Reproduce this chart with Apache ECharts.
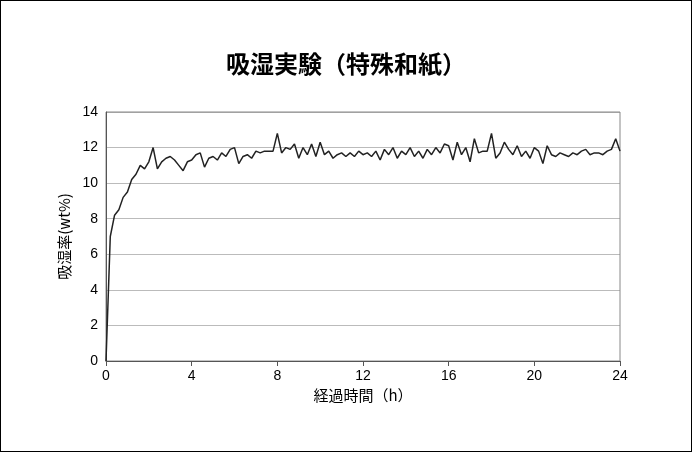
<!DOCTYPE html>
<html><head><meta charset="utf-8">
<script src="https://cdn.jsdelivr.net/npm/echarts@6/dist/echarts.min.js"></script>
<style>html,body{margin:0;padding:0;background:#fff}#c{width:690px;height:450px;border:1px solid #000}</style>
</head><body><div id="c"></div>
<script>
const title = '吸湿実験（特殊和紙）';
const xName = '経過時間（h）';
const yName = '吸湿率(wt%)';
const hours = [];
for (let i = 0; i <= 120; i++) hours.push(+(i * 0.2).toFixed(1));
const moisture = [
0,7.0,8.2,8.5,9.2,9.5,10.2,10.5,11.0,10.8,11.2,12.0,10.8,11.2,11.4,11.5,11.3,11.0,10.7,11.2,
11.3,11.6,11.7,10.9,11.4,11.5,11.3,11.7,11.5,11.9,12.0,11.1,11.5,11.6,11.4,11.8,11.7,11.8,11.8,11.8,
12.8,11.7,12.0,11.9,12.2,11.4,12.0,11.6,12.2,11.5,12.3,11.6,11.8,11.4,11.6,11.7,11.5,11.7,11.5,11.8,
11.6,11.7,11.5,11.8,11.3,11.9,11.6,12.0,11.4,11.8,11.6,12.0,11.5,11.8,11.4,11.9,11.6,12.0,11.7,12.2,
12.1,11.3,12.3,11.6,12.0,11.2,12.5,11.7,11.8,11.8,12.8,11.4,11.7,12.3,11.9,11.6,12.1,11.5,11.8,11.4,
12.0,11.8,11.1,12.1,11.6,11.5,11.7,11.6,11.5,11.7,11.6,11.8,11.9,11.6,11.7,11.7,11.6,11.8,11.9,12.5,11.8
];
const chart = echarts.init(document.getElementById('c'));
chart.setOption({
  animation:false,
  title:{text:title,left:'center',top:46,textStyle:{fontSize:24,fontWeight:'bold',color:'#000',fontFamily:'Noto Sans CJK JP'}},
  grid:{left:105,right:71,top:111,bottom:90},
  xAxis:{type:'value',min:0,max:24,interval:4,name:xName,nameLocation:'middle',nameGap:24,
    nameTextStyle:{fontSize:15,color:'#000',fontFamily:'Noto Sans CJK JP'},
    axisLine:{lineStyle:{color:'#555'}},axisTick:{inside:false,lineStyle:{color:'#555'}},
    axisLabel:{fontSize:14,color:'#000'},splitLine:{show:false}},
  yAxis:{type:'value',min:0,max:14,interval:2,name:yName,nameLocation:'middle',nameGap:34,
    nameTextStyle:{fontSize:15,color:'#000',fontFamily:'Noto Sans CJK JP'},
    axisLine:{show:true,lineStyle:{color:'#555'}},axisTick:{show:false},
    axisLabel:{fontSize:14,color:'#000'},splitLine:{lineStyle:{color:'#bbb'}}},
  series:[{type:'line',data:hours.map((h,i)=>[h,moisture[i]]),showSymbol:false,
    lineStyle:{color:'#222',width:1.5}}]
});
chart.setOption({graphic:[{type:'rect',shape:{x:105,y:111,width:514,height:249},style:{fill:'none',stroke:'#888',lineWidth:1}}]});
</script></body></html>
